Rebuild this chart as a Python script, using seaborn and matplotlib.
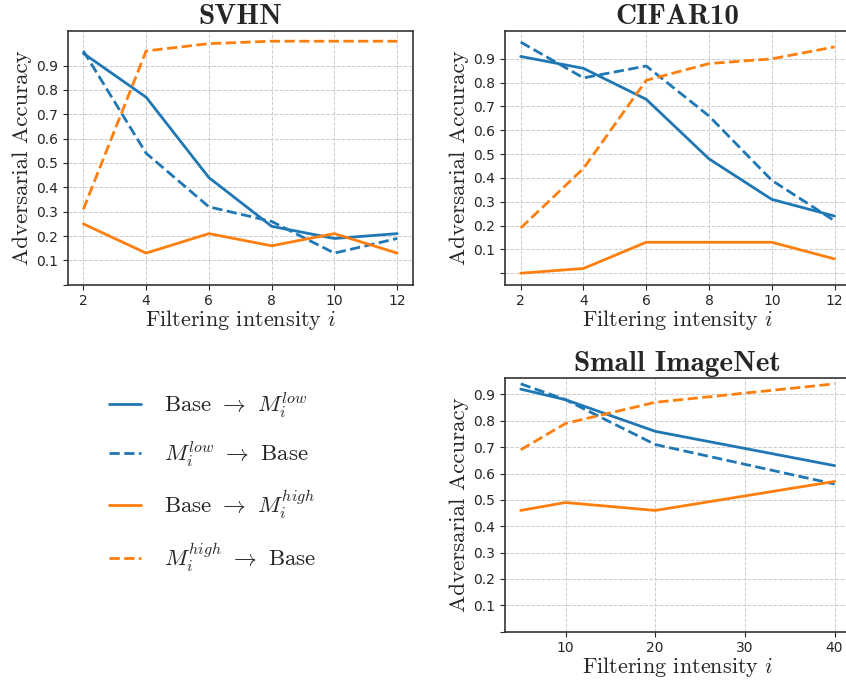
#####----- Adversarial accuracy vs filtering intensity for three datasets

#####----- IMPORTS
import numpy as np
import pandas as pd
import seaborn as sns
import matplotlib.pyplot as plt
from matplotlib.lines import Line2D

#####----- DATA
svhn_x = [2, 4, 6, 8, 10, 12]
svhn_base_low = [0.95, 0.77, 0.44, 0.24, 0.19, 0.21]
svhn_low_base = [0.96, 0.54, 0.32, 0.26, 0.13, 0.19]
svhn_base_high = [0.25, 0.13, 0.21, 0.16, 0.21, 0.13]
svhn_high_base = [0.31, 0.96, 0.99, 1.0, 1.0, 1.0]

cifar_x = [2, 4, 6, 8, 10, 12]
cifar_base_low = [0.91, 0.86, 0.73, 0.48, 0.31, 0.24]
cifar_low_base = [0.97, 0.82, 0.87, 0.66, 0.39, 0.22]
cifar_base_high = [0.00, 0.02, 0.13, 0.13, 0.13, 0.06]
cifar_high_base = [0.19, 0.44, 0.81, 0.88, 0.90, 0.95]

imnet_x = [5, 10, 20, 40]
imnet_base_low = [0.92, 0.88, 0.76, 0.63]
imnet_low_base = [0.94, 0.88, 0.71, 0.56]
imnet_base_high = [0.46, 0.49, 0.46, 0.57]
imnet_high_base = [0.69, 0.79, 0.87, 0.94]

series_labels = [r'Base $\rightarrow$ $M_i^{low}$',
                 r'$M_i^{low}$ $\rightarrow$ Base',
                 r'Base $\rightarrow$ $M_i^{high}$',
                 r'$M_i^{high}$ $\rightarrow$ Base']
yticks = [0, 0.1, 0.2, 0.3, 0.4, 0.5, 0.6, 0.7, 0.8, 0.9]
ytick_labels = [''] + ['0.1', '0.2', '0.3', '0.4', '0.5', '0.6', '0.7', '0.8', '0.9']

blue = '#1f77b4'
orange = '#ff7f0e'
styles = [(blue, '-'), (blue, '--'), (orange, '-'), (orange, '--')]

#####----- STYLE
sns.set_style("ticks", {"axes.grid": True, "grid.linestyle": "--",
                        "grid.color": "#cccccc", "axes.edgecolor": "#333333"})
plt.rcParams['font.family'] = ['DejaVu Sans']
plt.rcParams['mathtext.fontset'] = 'cm'
plt.rcParams['axes.unicode_minus'] = False

#####----- FUNCTIONS
def draw_panel(ax, x, series, title, bottom_zero):
    for ys, (color, ls) in zip(series, styles):
        sns.lineplot(x=x, y=ys, ax=ax, color=color, linestyle=ls, linewidth=2)
    ax.set_yticks(yticks)
    ax.set_yticklabels(ytick_labels, fontsize=10)
    ax.tick_params(axis='x', labelsize=10)
    if bottom_zero:
        ax.set_ylim(bottom=0)
    ax.set_title(title, fontfamily='cmb10', fontsize=21, pad=5)
    ax.set_xlabel(r'Filtering intensity $i$', fontfamily='cmr10', fontsize=16, labelpad=0)
    ax.set_ylabel('Adversarial Accuracy', fontfamily='cmr10', fontsize=16.5, labelpad=3)
    ax.grid(True, linestyle='--', linewidth=0.7, color='#cccccc')
    for sp in ax.spines.values():
        sp.set_linewidth(1.2)

#####----- MAIN
fig, axes = plt.subplots(2, 2, figsize=(8.46, 6.8), dpi=100)
fig.subplots_adjust(left=0.08, right=1.005, top=0.955, bottom=0.071, wspace=0.267, hspace=0.365)

draw_panel(axes[0, 0], svhn_x, [svhn_base_low, svhn_low_base, svhn_base_high, svhn_high_base], 'SVHN', True)
draw_panel(axes[0, 1], cifar_x, [cifar_base_low, cifar_low_base, cifar_base_high, cifar_high_base], 'CIFAR10', False)
draw_panel(axes[1, 1], imnet_x, [imnet_base_low, imnet_low_base, imnet_base_high, imnet_high_base], 'Small ImageNet', True)
axes[1, 1].set_xticks([10, 20, 30, 40])

leg_ax = axes[1, 0]
leg_ax.axis('off')
handles = [Line2D([0], [0], color=c, linestyle=ls, linewidth=2) for c, ls in styles]
leg_ax.legend(handles, series_labels, loc='center', bbox_to_anchor=(0.42, 0.59),
              frameon=False, prop={'family': 'cmr10', 'size': 16.5},
              handlelength=1.4, labelspacing=0.85, handletextpad=1.0)

plt.savefig("out.png", dpi=100)
